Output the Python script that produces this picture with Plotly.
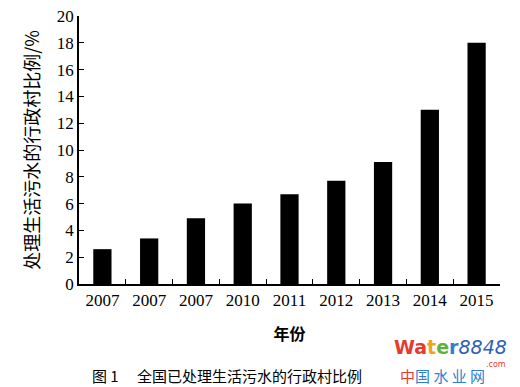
import plotly.graph_objects as go

categories = ["2007", "2007 ", "2007  ", "2010", "2011", "2012", "2013", "2014", "2015"]
tick_labels = ["2007", "2007", "2007", "2010", "2011", "2012", "2013", "2014", "2015"]
values = [2.6, 3.4, 4.9, 6.0, 6.7, 7.7, 9.1, 13.0, 18.0]
y_ticks = [0, 2, 4, 6, 8, 10, 12, 14, 16, 18, 20]

num_font = "Liberation Serif, Times New Roman, serif"
cjk_font = "Noto Sans CJK SC, sans-serif"

fig = go.Figure(go.Bar(x=categories, y=values, marker=dict(color="black", line=dict(width=0)),
                       width=0.39))

# page body has an 8px margin, so the figure is drawn 8px smaller and offset
fig.update_layout(
    width=512, height=379,
    margin=dict(l=71, r=20, t=8, b=103),
    paper_bgcolor="white", plot_bgcolor="white",
    showlegend=False,
    xaxis=dict(
        type="category", tickvals=categories, ticktext=tick_labels,
        showline=True, linecolor="black", linewidth=1.5, automargin=False,
        ticks="inside", tickson="boundaries", ticklen=5, tickcolor="black",
        tickfont=dict(family=num_font, size=17, color="black"),
        showgrid=False, zeroline=False, ticklabeloverflow="allow",
        title=dict(text="<b>年份</b>", font=dict(family=cjk_font, size=16, color="black"), standoff=20),
    ),
    yaxis=dict(
        range=[0, 20], tickvals=y_ticks,
        showline=True, linecolor="black", linewidth=1.5, automargin=False,
        ticks="inside", ticklen=5, tickcolor="black",
        tickfont=dict(family=num_font, size=17, color="black"),
        showgrid=False, zeroline=False, ticklabeloverflow="allow",
        title=dict(text="处理生活污水的行政村比例/%", font=dict(family=cjk_font, size=18, color="black"), standoff=13),
    ),
)

# caption
fig.add_annotation(text="图 1　 全国已处理生活污水的行政村比例", xref="paper", yref="paper",
                   x=(90 - 79) / 421, y=(284 - 375) / 268, xanchor="left", yanchor="middle", showarrow=False,
                   font=dict(family=cjk_font, size=15, color="black"))

# watermark
fig.add_annotation(text="<b><span style='color:#e8392f'>Wa</span><span style='color:#f2a31b'>t</span><span style='color:#5db33a'>e</span><span style='color:#2f7fd0'>r</span></b><i><span style='color:#2f5fb8'>8848</span></i>",
                   xref="paper", yref="paper", x=(392 - 79) / 421, y=(284 - 347) / 268, xanchor="left", yanchor="middle",
                   showarrow=False, font=dict(family="DejaVu Sans", size=19))
fig.add_annotation(text=".com", xref="paper", yref="paper", x=(508 - 79) / 421, y=(284 - 364) / 268,
                   xanchor="right", yanchor="middle", showarrow=False,
                   font=dict(family="DejaVu Sans", size=8, color="#e8392f"))
fig.add_annotation(text="<span style='color:#e8392f'>中</span><span style='color:#2f7fd0'>国 水 业 网</span>",
                   xref="paper", yref="paper", x=(398 - 79) / 421, y=(284 - 375) / 268, xanchor="left", yanchor="middle",
                   showarrow=False, font=dict(family=cjk_font, size=15))

fig.write_html("out.html")
